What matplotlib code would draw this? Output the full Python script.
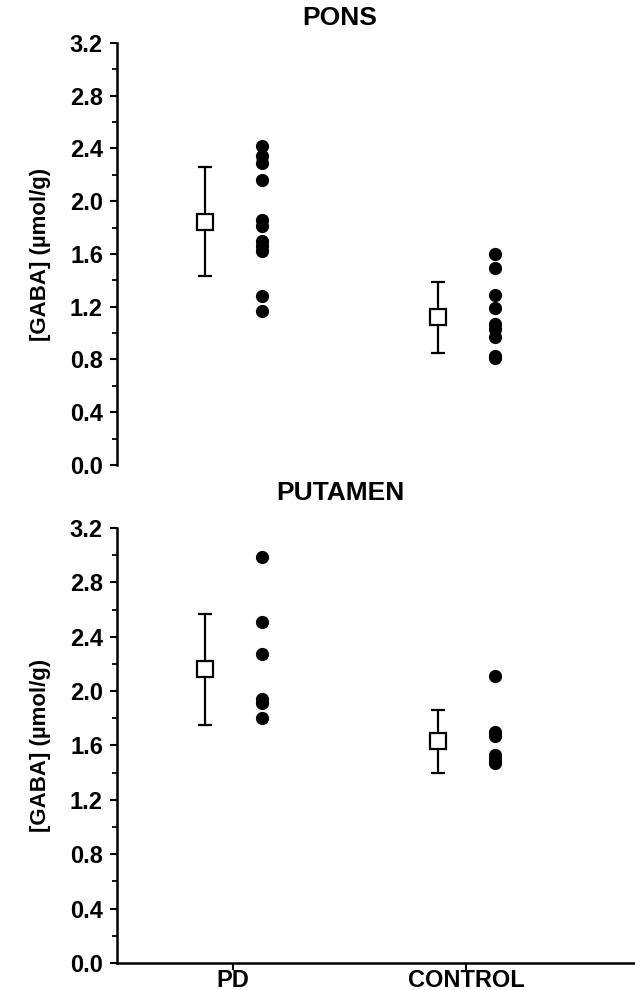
import matplotlib
matplotlib.use('Agg')
import matplotlib.pyplot as plt
from matplotlib.ticker import MultipleLocator, FormatStrFormatter

plt.rcParams['font.family'] = ['Liberation Sans', 'DejaVu Sans']
plt.rcParams['font.weight'] = 'bold'

# group labels
groups = ["PD", "CONTROL"]

# PONS: individual values, mean and error bar ends
pons_pd = [2.42, 2.34, 2.29, 2.16, 1.86, 1.81, 1.70, 1.66, 1.62, 1.28, 1.17]
pons_ctrl = [1.60, 1.49, 1.29, 1.19, 1.07, 1.03, 0.97, 0.83, 0.81]
pons_mean = [1.84, 1.12]
pons_hi = [2.26, 1.39]
pons_lo = [1.43, 0.85]

# PUTAMEN
put_pd = [2.99, 2.51, 2.27, 1.94, 1.91, 1.80]
put_ctrl = [2.11, 1.70, 1.67, 1.53, 1.50, 1.47]
put_mean = [2.16, 1.63]
put_hi = [2.57, 1.86]
put_lo = [1.75, 1.40]

fig = plt.figure(figsize=(6.35, 9.9), dpi=100)
ax1 = fig.add_axes([0.184, 0.5303, 0.816, 0.4263])
ax2 = fig.add_axes([0.184, 0.0273, 0.816, 0.4394])


def draw(ax, pd_vals, ctrl_vals, mean, hi, lo, show_x):
    xs = [1, 2]
    for i, x in enumerate(xs):
        ax.errorbar(x - 0.12, mean[i],
                    yerr=[[mean[i] - lo[i]], [hi[i] - mean[i]]],
                    fmt='s', ms=11, mfc='white', mec='black', mew=1.6,
                    ecolor='black', elinewidth=1.6, capsize=5, capthick=1.6,
                    zorder=3)
    ax.plot([1.125] * len(pd_vals), pd_vals, 'o', color='black', ms=8.5)
    ax.plot([2.125] * len(ctrl_vals), ctrl_vals, 'o', color='black', ms=8.5)

    ax.set_xlim(0.502, 2.725)
    ax.set_ylim(0, 3.2)
    ax.yaxis.set_major_locator(MultipleLocator(0.4))
    ax.yaxis.set_minor_locator(MultipleLocator(0.2))
    ax.yaxis.set_major_formatter(FormatStrFormatter('%.1f'))
    ax.spines['top'].set_visible(False)
    ax.spines['right'].set_visible(False)
    ax.spines['left'].set_linewidth(1.8)
    ax.spines['bottom'].set_linewidth(1.8)
    ax.tick_params(axis='y', which='major', length=5, width=1.5, labelsize=17, pad=5)
    ax.tick_params(axis='y', which='minor', length=3.5, width=1.3)
    if show_x:
        ax.set_xticks(xs)
        ax.set_xticklabels(groups)
        ax.tick_params(axis='x', length=5, width=1.5, labelsize=17, pad=-1)
    else:
        ax.spines['bottom'].set_visible(False)
        ax.set_xticks([])
    ax.set_ylabel("[GABA] (µmol/g)", fontsize=16, fontweight='bold')


draw(ax1, pons_pd, pons_ctrl, pons_mean, pons_hi, pons_lo, False)
draw(ax2, put_pd, put_ctrl, put_mean, put_hi, put_lo, True)
ax1.yaxis.set_label_coords(-0.128, 0.5)
ax2.yaxis.set_label_coords(-0.128, 0.5)

fig.text(340 / 635, 1 - 18 / 990, "PONS", fontsize=19, fontweight='bold',
         ha='center', va='center')
fig.text(340 / 635, 1 - 493 / 990, "PUTAMEN", fontsize=19, fontweight='bold',
         ha='center', va='center')

fig.savefig("out.png", dpi=100)
